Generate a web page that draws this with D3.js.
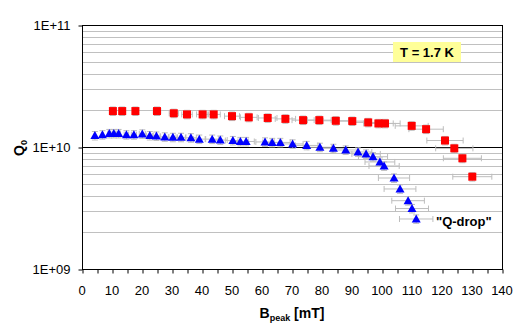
<html>
<head>
<style>
    body { margin: 0; background: #fff; }
    text { font-family: Arial, "Liberation Sans", sans-serif; }
</style>
</head>
<body>
<svg id="chart" width="522" height="332"></svg>
<script src="https://d3js.org/d3.v7.min.js"></script>
<script>
    // Q0 vs Bpeak at T = 1.7 K
    let redB = [10.3, 13.4, 17.8, 25, 30.6, 35, 40.2, 43.9, 50, 55.6, 61.9, 67.8, 73.7, 79.1, 84.6, 90.1,
        95.4, 98.8, 101, 109.9, 114.7, 121, 124.1, 126.8, 130.1]
    let redQ = [1.97e10, 1.97e10, 1.97e10, 1.97e10, 1.89e10, 1.85e10, 1.85e10, 1.85e10, 1.79e10, 1.75e10,
        1.73e10, 1.70e10, 1.66e10, 1.66e10, 1.64e10, 1.63e10, 1.59e10, 1.56e10, 1.56e10, 1.49e10,
        1.40e10, 1.13e10, 9.75e9, 8.08e9, 5.71e9]

    let blueB = [4.3, 6.8, 9.1, 10.6, 12.2, 14.8, 17.3, 20.1, 22.6, 24.8, 27.6, 30.3, 33, 36.3, 39.1, 43.4,
        46.1, 50.3, 52.8, 54.7, 61, 63.4, 66.1, 70.2, 74.9, 79.3, 83.8, 87.9, 92, 94.7, 97, 99.3, 100.7,
        104, 106, 108.7, 110, 111.4]
    let blueQ = [1.24e10, 1.26e10, 1.29e10, 1.29e10, 1.29e10, 1.26e10, 1.26e10, 1.28e10, 1.24e10, 1.23e10,
        1.21e10, 1.20e10, 1.20e10, 1.19e10, 1.16e10, 1.16e10, 1.14e10, 1.13e10, 1.11e10, 1.11e10,
        1.10e10, 1.09e10, 1.09e10, 1.06e10, 1.03e10, 9.95e9, 9.75e9, 9.45e9, 9.1e9, 8.77e9, 8.32e9,
        7.54e9, 6.99e9, 5.57e9, 4.53e9, 3.63e9, 3.13e9, 2.57e9]

    let xTicks = d3.range(0, 141, 10)
    let xMinorTicks = d3.range(0, 141, 5)
    let yTicks = [1e9, 1e10, 1e11]
    let yTickLabels = ["1E+09", "1E+10", "1E+11"]

    // error bars: 5 % on B, 8 % on Q
    let errB = 0.05
    let errQ = 0.08

    let svg = d3.select("#chart")
    let plotLeft = 82, plotRight = 502, plotTop = 25, plotBottom = 269

    let x = d3.scaleLinear().domain([0, 140]).range([plotLeft, plotRight])
    let y = d3.scaleLog().domain([1e9, 1e11]).range([plotBottom, plotTop])

    // minor gridlines
    let minor = []
    ;[1e9, 1e10].forEach(dec => { for (let k = 2; k <= 9; k++) minor.push(k * dec) })
    svg.append("g").selectAll("line").data(minor).enter().append("line")
        .attr("x1", plotLeft).attr("x2", plotRight)
        .attr("y1", d => Math.round(y(d)) + 0.5).attr("y2", d => Math.round(y(d)) + 0.5)
        .attr("stroke", "#c0c0c0").attr("stroke-width", 1)

    // major gridline
    svg.append("line")
        .attr("x1", plotLeft).attr("x2", plotRight)
        .attr("y1", Math.round(y(1e10)) + 0.5).attr("y2", Math.round(y(1e10)) + 0.5)
        .attr("stroke", "#000")

    // plot border
    svg.append("rect")
        .attr("x", plotLeft + 0.5).attr("y", plotTop + 0.5)
        .attr("width", plotRight - plotLeft).attr("height", plotBottom - plotTop)
        .attr("fill", "none").attr("stroke", "#000")

    // x axis
    let xAxis = d3.axisBottom(x).tickValues(xMinorTicks).tickSize(4).tickFormat("")
    svg.append("g").attr("transform", `translate(0.5,${plotBottom + 0.5})`).call(xAxis)
        .call(g => g.select(".domain").remove())
        .call(g => g.selectAll("line").attr("stroke", "#000"))
    svg.append("g").selectAll("text").data(xTicks).enter().append("text")
        .attr("x", d => x(d)).attr("y", 295)
        .attr("text-anchor", "middle").attr("font-size", 13)
        .text(d => d)

    // y axis
    let yAxis = d3.axisLeft(y).tickValues(yTicks).tickSize(4).tickFormat((d, i) => yTickLabels[i])
    svg.append("g").attr("transform", `translate(${plotLeft + 0.5},0.5)`).call(yAxis)
        .call(g => g.select(".domain").remove())
        .call(g => g.selectAll("line").attr("stroke", "#000"))
        .call(g => g.selectAll("text").attr("font-size", 13).attr("font-family", "Arial, 'Liberation Sans', sans-serif")
            .attr("fill", "#000").attr("x", -12))

    // axis titles
    let xt = svg.append("text").attr("x", 292).attr("y", 318).attr("text-anchor", "middle")
        .attr("font-size", 14).attr("font-weight", "bold")
    xt.append("tspan").text("B")
    xt.append("tspan").attr("font-size", 9).attr("dy", 3).text("peak")
    xt.append("tspan").attr("dy", -3).text(" [mT]")

    let yt = svg.append("text").attr("transform", "translate(24,148) rotate(-90)").attr("text-anchor", "middle")
        .attr("font-size", 14).attr("font-weight", "bold")
    yt.append("tspan").text("Q")
    yt.append("tspan").attr("font-size", 9).attr("dy", 3).text("0")

    // error bars
    function errorBars(bs, qs) {
        let g = svg.append("g").attr("stroke", "#bdbdbd").attr("stroke-width", 1)
        bs.forEach((b, i) => {
            let cx = x(b), cy = y(qs[i])
            let x0 = x(b * (1 - errB)), x1 = x(b * (1 + errB))
            let y0 = y(qs[i] * (1 - errQ)), y1 = y(qs[i] * (1 + errQ))
            g.append("line").attr("x1", x0).attr("x2", x1).attr("y1", cy).attr("y2", cy)
            g.append("line").attr("x1", x0).attr("x2", x0).attr("y1", cy - 3).attr("y2", cy + 3)
            g.append("line").attr("x1", x1).attr("x2", x1).attr("y1", cy - 3).attr("y2", cy + 3)
            g.append("line").attr("x1", cx).attr("x2", cx).attr("y1", y0).attr("y2", y1)
            g.append("line").attr("x1", cx - 3).attr("x2", cx + 3).attr("y1", y0).attr("y2", y0)
            g.append("line").attr("x1", cx - 3).attr("x2", cx + 3).attr("y1", y1).attr("y2", y1)
        })
    }
    errorBars(redB, redQ)
    errorBars(blueB, blueQ)

    // red squares
    svg.append("g").selectAll("rect").data(redB).enter().append("rect")
        .attr("x", d => x(d) - 4).attr("y", (d, i) => y(redQ[i]) - 4)
        .attr("width", 8).attr("height", 8)
        .attr("fill", "#ff0000")

    // blue triangles
    svg.append("g").selectAll("path").data(blueB).enter().append("path")
        .attr("transform", (d, i) => `translate(${x(d)},${y(blueQ[i])})`)
        .attr("d", "M0,-4.5L4.5,3.5L-4.5,3.5Z")
        .attr("fill", "#0000ff")

    // temperature label
    svg.append("rect").attr("x", 393).attr("y", 42).attr("width", 68).attr("height", 20)
        .attr("fill", "#ffff99")
    svg.append("text").attr("x", 427).attr("y", 57).attr("text-anchor", "middle")
        .attr("font-size", 13).attr("font-weight", "bold").text("T = 1.7 K")

    svg.append("text").attr("x", 436).attr("y", 226)
        .attr("font-size", 13).attr("font-weight", "bold").text("\"Q-drop\"")
</script>
</body>
</html>
